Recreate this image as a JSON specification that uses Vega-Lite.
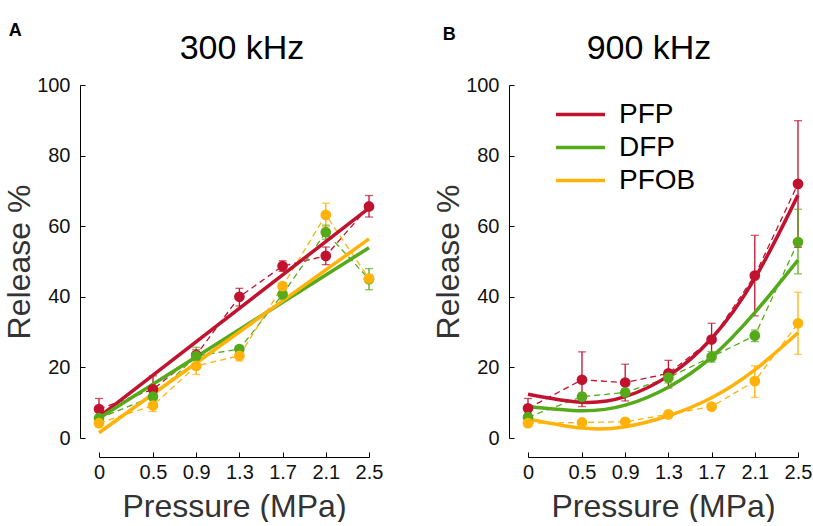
{
  "$schema": "https://vega.github.io/schema/vega-lite/v6.json",
  "background": "white",
  "padding": {"left": 3, "top": 22, "right": 0, "bottom": 0},
  "config": {
    "font": "Liberation Sans",
    "view": {"stroke": null},
    "axis": {"grid": false, "domainColor": "#000", "tickColor": "#000", "labelColor": "#111", "titleColor": "#333", "labelFontSize": 20, "titleFontSize": 32, "titleFontWeight": "normal", "tickSize": -5, "offset": 19, "domainWidth": 1, "tickWidth": 1, "labelFlush": false},
    "axisX": {"labelPadding": 10, "titlePadding": 9},
    "axisY": {"labelPadding": 15, "titlePadding": 0},
    "title": {"fontSize": 34, "fontWeight": "normal", "color": "#000"},
    "concat": {"spacing": 49}
  },
  "datasets": {
    "obs300": [
      {"g": "PFP", "x": 0, "y": 8.2, "lo": 5.3, "hi": 11.2},
      {"g": "PFP", "x": 0.5, "y": 13.8, "lo": 10.0, "hi": 17.6},
      {"g": "PFP", "x": 0.9, "y": 23.5, "lo": 22.0, "hi": 25.0},
      {"g": "PFP", "x": 1.3, "y": 40.0, "lo": 37.4, "hi": 42.4},
      {"g": "PFP", "x": 1.7, "y": 48.7, "lo": 47.2, "hi": 50.2},
      {"g": "PFP", "x": 2.1, "y": 51.6, "lo": 49.1, "hi": 54.1},
      {"g": "PFP", "x": 2.5, "y": 65.6, "lo": 62.6, "hi": 68.7},
      {"g": "DFP", "x": 0, "y": 5.6, "lo": 4.6, "hi": 6.6},
      {"g": "DFP", "x": 0.5, "y": 11.7, "lo": 9.7, "hi": 13.7},
      {"g": "DFP", "x": 0.9, "y": 23.2, "lo": 20.7, "hi": 25.7},
      {"g": "DFP", "x": 1.3, "y": 25.2, "lo": 24.2, "hi": 26.2},
      {"g": "DFP", "x": 1.7, "y": 40.7, "lo": 39.2, "hi": 42.2},
      {"g": "DFP", "x": 2.1, "y": 58.3, "lo": 56.3, "hi": 60.3},
      {"g": "DFP", "x": 2.5, "y": 45.0, "lo": 42.0, "hi": 48.0},
      {"g": "PFOB", "x": 0, "y": 4.2, "lo": 3.2, "hi": 5.2},
      {"g": "PFOB", "x": 0.5, "y": 9.2, "lo": 7.5, "hi": 10.9},
      {"g": "PFOB", "x": 0.9, "y": 20.4, "lo": 18.0, "hi": 22.8},
      {"g": "PFOB", "x": 1.3, "y": 23.3, "lo": 21.8, "hi": 24.8},
      {"g": "PFOB", "x": 1.7, "y": 43.0, "lo": 42.0, "hi": 44.0},
      {"g": "PFOB", "x": 2.1, "y": 63.2, "lo": 59.9, "hi": 66.5},
      {"g": "PFOB", "x": 2.5, "y": 45.2, "lo": 44.2, "hi": 46.2}
    ],
    "fit300": [
      {"g": "PFP", "x": 0, "y": 6.0},
      {"g": "PFP", "x": 2.5, "y": 65.1},
      {"g": "DFP", "x": 0, "y": 5.6},
      {"g": "DFP", "x": 2.5, "y": 53.9},
      {"g": "PFOB", "x": 0, "y": 1.5},
      {"g": "PFOB", "x": 2.5, "y": 56.4}
    ],
    "obs900": [
      {"g": "PFP", "x": 0, "y": 8.4, "lo": 5.6, "hi": 11.2},
      {"g": "PFP", "x": 0.5, "y": 16.5, "lo": 8.9, "hi": 24.4},
      {"g": "PFP", "x": 0.9, "y": 15.7, "lo": 10.5, "hi": 20.9},
      {"g": "PFP", "x": 1.3, "y": 18.3, "lo": 14.2, "hi": 22.0},
      {"g": "PFP", "x": 1.7, "y": 27.9, "lo": 23.3, "hi": 32.5},
      {"g": "PFP", "x": 2.1, "y": 46.0, "lo": 34.6, "hi": 57.4},
      {"g": "PFP", "x": 2.5, "y": 72.0, "lo": 54.0, "hi": 89.9},
      {"g": "DFP", "x": 0, "y": 5.9, "lo": 4.9, "hi": 6.9},
      {"g": "DFP", "x": 0.5, "y": 11.7, "lo": 10.7, "hi": 12.7},
      {"g": "DFP", "x": 0.9, "y": 12.9, "lo": 11.9, "hi": 13.9},
      {"g": "DFP", "x": 1.3, "y": 17.1, "lo": 15.6, "hi": 18.6},
      {"g": "DFP", "x": 1.7, "y": 23.0, "lo": 21.5, "hi": 24.5},
      {"g": "DFP", "x": 2.1, "y": 29.0, "lo": 27.3, "hi": 30.6},
      {"g": "DFP", "x": 2.5, "y": 55.5, "lo": 46.5, "hi": 64.8},
      {"g": "PFOB", "x": 0, "y": 4.2, "lo": 3.2, "hi": 5.2},
      {"g": "PFOB", "x": 0.5, "y": 4.4, "lo": 3.9, "hi": 4.9},
      {"g": "PFOB", "x": 0.9, "y": 4.6, "lo": 4.1, "hi": 5.1},
      {"g": "PFOB", "x": 1.3, "y": 6.7, "lo": 6.2, "hi": 7.2},
      {"g": "PFOB", "x": 1.7, "y": 8.9, "lo": 8.1, "hi": 9.7},
      {"g": "PFOB", "x": 2.1, "y": 16.1, "lo": 11.5, "hi": 20.5},
      {"g": "PFOB", "x": 2.5, "y": 32.5, "lo": 23.7, "hi": 41.3}
    ],
    "fit900": [
      {"g": "PFP", "x": 0, "y": 12.4},
      {"g": "PFP", "x": 0.5, "y": 10.1},
      {"g": "PFP", "x": 0.9, "y": 11.7},
      {"g": "PFP", "x": 1.3, "y": 17.6},
      {"g": "PFP", "x": 1.7, "y": 28.2},
      {"g": "PFP", "x": 2.1, "y": 45.2},
      {"g": "PFP", "x": 2.5, "y": 68.8},
      {"g": "DFP", "x": 0, "y": 8.9},
      {"g": "DFP", "x": 0.5, "y": 7.7},
      {"g": "DFP", "x": 0.9, "y": 9.3},
      {"g": "DFP", "x": 1.3, "y": 14.4},
      {"g": "DFP", "x": 1.7, "y": 22.9},
      {"g": "DFP", "x": 2.1, "y": 35.5},
      {"g": "DFP", "x": 2.5, "y": 50.4},
      {"g": "PFOB", "x": 0, "y": 5.4},
      {"g": "PFOB", "x": 0.5, "y": 2.8},
      {"g": "PFOB", "x": 0.9, "y": 3.2},
      {"g": "PFOB", "x": 1.3, "y": 6.3},
      {"g": "PFOB", "x": 1.7, "y": 11.4},
      {"g": "PFOB", "x": 2.1, "y": 19.3},
      {"g": "PFOB", "x": 2.5, "y": 29.8}
    ]
  },
  "resolve": {"scale": {"color": "independent"}, "legend": {"color": "independent"}},
  "hconcat": [
    {
      "title": {"text": "A", "anchor": "start", "fontSize": 18, "fontWeight": "bold", "offset": -8, "dx": 5},
      "vconcat": [
        {
          "width": 270, "height": 353,
          "title": {"text": "300 kHz", "offset": 9, "dx": 8},
          "layer": [
            {"data": {"name": "obs300"}, "mark": {"type": "line", "strokeDash": [6, 4], "strokeWidth": 1.3},
             "encoding": {
               "x": {"field": "x", "type": "quantitative", "title": "Pressure (MPa)", "scale": {"domain": [0, 2.5], "nice": false}, "axis": {"values": [0, 0.5, 0.9, 1.3, 1.7, 2.1, 2.5], "format": ".1~f"}},
               "y": {"field": "y", "type": "quantitative", "title": "Release %", "scale": {"domain": [0, 100], "nice": false}, "axis": {"values": [0, 20, 40, 60, 80, 100]}},
               "color": {"field": "g", "type": "nominal", "scale": {"domain": ["PFP", "DFP", "PFOB"], "range": ["#C1122F", "#55AA1A", "#FFB20A"]}, "legend": null}
             }},
            {"data": {"name": "obs300"}, "mark": {"type": "rule", "strokeWidth": 1.3},
             "encoding": {
               "x": {"field": "x", "type": "quantitative", "title": "Pressure (MPa)"},
               "y": {"field": "lo", "type": "quantitative", "title": "Release %"},
               "y2": {"field": "hi"},
               "color": {"field": "g", "type": "nominal", "legend": null}
             }},
            {"data": {"name": "obs300"}, "mark": {"type": "tick", "orient": "horizontal", "size": 8, "thickness": 1.3},
             "encoding": {
               "x": {"field": "x", "type": "quantitative", "title": "Pressure (MPa)"},
               "y": {"field": "hi", "type": "quantitative", "title": "Release %"},
               "color": {"field": "g", "type": "nominal", "legend": null}
             }},
            {"data": {"name": "obs300"}, "mark": {"type": "tick", "orient": "horizontal", "size": 8, "thickness": 1.3},
             "encoding": {
               "x": {"field": "x", "type": "quantitative", "title": "Pressure (MPa)"},
               "y": {"field": "lo", "type": "quantitative", "title": "Release %"},
               "color": {"field": "g", "type": "nominal", "legend": null}
             }},
            {"data": {"name": "fit300"}, "mark": {"type": "line", "strokeWidth": 3.5},
             "encoding": {
               "x": {"field": "x", "type": "quantitative", "title": "Pressure (MPa)"},
               "y": {"field": "y", "type": "quantitative", "title": "Release %"},
               "color": {"field": "g", "type": "nominal", "legend": null}
             }},
            {"data": {"name": "obs300"}, "mark": {"type": "point", "filled": true, "size": 115, "opacity": 1},
             "encoding": {
               "x": {"field": "x", "type": "quantitative", "title": "Pressure (MPa)"},
               "y": {"field": "y", "type": "quantitative", "title": "Release %"},
               "color": {"field": "g", "type": "nominal", "legend": null}
             }}
          ]
        }
      ]
    },
    {
      "title": {"text": "B", "anchor": "start", "fontSize": 18, "fontWeight": "bold", "offset": -8, "dx": 10, "dy": 4},
      "vconcat": [
        {
          "width": 270, "height": 353,
          "title": {"text": "900 kHz", "offset": 9, "dx": -14},
          "layer": [
            {"data": {"name": "obs900"}, "mark": {"type": "line", "strokeDash": [6, 4], "strokeWidth": 1.3},
             "encoding": {
               "x": {"field": "x", "type": "quantitative", "title": "Pressure (MPa)", "scale": {"domain": [0, 2.5], "nice": false}, "axis": {"values": [0, 0.5, 0.9, 1.3, 1.7, 2.1, 2.5], "format": ".1~f"}},
               "y": {"field": "y", "type": "quantitative", "title": "Release %", "scale": {"domain": [0, 100], "nice": false}, "axis": {"values": [0, 20, 40, 60, 80, 100]}},
               "color": {"field": "g", "type": "nominal", "scale": {"domain": ["PFP", "DFP", "PFOB"], "range": ["#C1122F", "#55AA1A", "#FFB20A"]}, "legend": {"orient": "none", "legendX": 26, "legendY": 13, "title": null, "symbolType": "stroke", "symbolSize": 2400, "symbolStrokeWidth": 3.5, "symbolOpacity": 1, "labelFontSize": 28, "labelOffset": 12, "rowPadding": 0, "clipHeight": 33, "labelColor": "#000", "encode": {"symbols": {"update": {"opacity": {"value": 1}, "strokeOpacity": {"value": 1}, "strokeDash": {"value": []}}}}}}
             }},
            {"data": {"name": "obs900"}, "mark": {"type": "rule", "strokeWidth": 1.3},
             "encoding": {
               "x": {"field": "x", "type": "quantitative", "title": "Pressure (MPa)"},
               "y": {"field": "lo", "type": "quantitative", "title": "Release %"},
               "y2": {"field": "hi"},
               "color": {"field": "g", "type": "nominal"}
             }},
            {"data": {"name": "obs900"}, "mark": {"type": "tick", "orient": "horizontal", "size": 8, "thickness": 1.3},
             "encoding": {
               "x": {"field": "x", "type": "quantitative", "title": "Pressure (MPa)"},
               "y": {"field": "hi", "type": "quantitative", "title": "Release %"},
               "color": {"field": "g", "type": "nominal"}
             }},
            {"data": {"name": "obs900"}, "mark": {"type": "tick", "orient": "horizontal", "size": 8, "thickness": 1.3},
             "encoding": {
               "x": {"field": "x", "type": "quantitative", "title": "Pressure (MPa)"},
               "y": {"field": "lo", "type": "quantitative", "title": "Release %"},
               "color": {"field": "g", "type": "nominal"}
             }},
            {"data": {"name": "fit900"}, "mark": {"type": "line", "strokeWidth": 3.5, "interpolate": "natural"},
             "encoding": {
               "x": {"field": "x", "type": "quantitative", "title": "Pressure (MPa)"},
               "y": {"field": "y", "type": "quantitative", "title": "Release %"},
               "color": {"field": "g", "type": "nominal", "legend": {"orient": "none", "legendX": 26, "legendY": 13, "title": null, "symbolType": "stroke", "symbolSize": 2400, "symbolStrokeWidth": 3.5, "symbolOpacity": 1, "labelFontSize": 28, "labelOffset": 12, "rowPadding": 0, "clipHeight": 33, "labelColor": "#000", "encode": {"symbols": {"update": {"opacity": {"value": 1}, "strokeOpacity": {"value": 1}, "strokeDash": {"value": []}}}}}}
             }},
            {"data": {"name": "obs900"}, "mark": {"type": "point", "filled": true, "size": 115, "opacity": 1},
             "encoding": {
               "x": {"field": "x", "type": "quantitative", "title": "Pressure (MPa)"},
               "y": {"field": "y", "type": "quantitative", "title": "Release %"},
               "color": {"field": "g", "type": "nominal"}
             }}
          ]
        }
      ]
    }
  ]
}
